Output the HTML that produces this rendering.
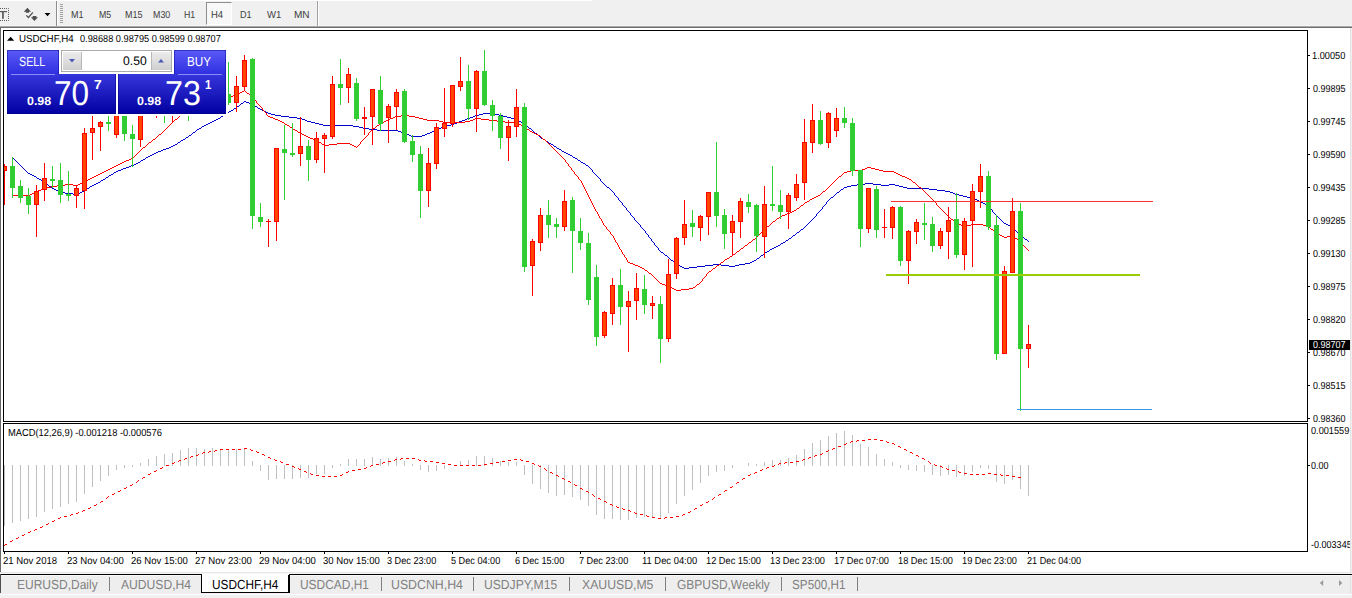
<!DOCTYPE html><html><head><meta charset="utf-8"><title>USDCHF,H4</title><style>
html,body{margin:0;padding:0}
body{width:1352px;height:598px;position:relative;overflow:hidden;background:#f0f0f0;font-family:"Liberation Sans", sans-serif;}
.abs{position:absolute}
.t{position:absolute;white-space:nowrap;color:#000;line-height:1;text-rendering:geometricPrecision;transform-origin:0 0}
.sep{position:absolute;top:577px;width:1px;height:14px;background:#808080}
</style></head><body>
<div class="abs" style="left:0;top:0;width:592px;height:1px;background:#fff"></div>
<div class="abs" style="left:0;top:25px;width:1352px;height:1px;background:#f5f5f5"></div>
<div class="abs" style="left:0;top:26px;width:1352px;height:1px;background:#a8a8a8"></div>
<div class="abs" style="left:0;top:27px;width:1352px;height:1px;background:#6e6e6e"></div>
<div class="abs" style="left:0;top:28px;width:1350px;height:545px;background:#fff"></div>
<div class="abs" style="left:0;top:28px;width:1px;height:544px;background:#696969"></div>
<div class="abs" style="left:1350px;top:28px;width:1px;height:545px;background:#e3e3e3"></div>
<svg width="1352" height="598" viewBox="0 0 1352 598" style="position:absolute;left:0;top:0" shape-rendering="crispEdges">
<defs><clipPath id="cm"><rect x="4" y="31" width="1303" height="390"/></clipPath><clipPath id="cd"><rect x="4" y="424" width="1303" height="127"/></clipPath></defs>
<rect x="3.5" y="30.5" width="1304" height="391" fill="#fff" stroke="#000" stroke-width="1"/>
<rect x="3.5" y="423.5" width="1304" height="128" fill="#fff" stroke="#000" stroke-width="1"/>
<g clip-path="url(#cm)">
<path d="M244 101h2v1h-2zM243 102h1v1h-1zM246 102h3v1h-3zM241 103h2v1h-2zM249 103h2v1h-2zM240 104h1v1h-1zM251 104h2v1h-2zM239 105h1v1h-1zM253 105h2v1h-2zM237 106h2v1h-2zM255 106h2v1h-2zM236 107h1v1h-1zM257 107h1v1h-1zM234 108h2v1h-2zM258 108h2v1h-2zM233 109h1v1h-1zM260 109h2v1h-2zM231 110h2v1h-2zM262 110h2v1h-2zM229 111h2v1h-2zM264 111h2v1h-2zM228 112h1v1h-1zM266 112h2v1h-2zM226 113h2v1h-2zM268 113h3v1h-3zM483 113h12v1h-12zM225 114h1v1h-1zM271 114h4v1h-4zM479 114h4v1h-4zM495 114h4v1h-4zM223 115h2v1h-2zM275 115h6v1h-6zM475 115h4v1h-4zM499 115h4v1h-4zM221 116h2v1h-2zM281 116h8v1h-8zM473 116h2v1h-2zM503 116h4v1h-4zM220 117h1v1h-1zM289 117h8v1h-8zM470 117h3v1h-3zM507 117h4v1h-4zM218 118h2v1h-2zM297 118h5v1h-5zM467 118h3v1h-3zM511 118h4v1h-4zM216 119h2v1h-2zM302 119h3v1h-3zM465 119h2v1h-2zM515 119h2v1h-2zM214 120h2v1h-2zM305 120h2v1h-2zM462 120h3v1h-3zM517 120h2v1h-2zM212 121h2v1h-2zM307 121h4v1h-4zM459 121h3v1h-3zM519 121h2v1h-2zM210 122h2v1h-2zM311 122h4v1h-4zM457 122h2v1h-2zM521 122h1v1h-1zM208 123h2v1h-2zM315 123h4v1h-4zM454 123h3v1h-3zM522 123h2v1h-2zM206 124h2v1h-2zM319 124h4v1h-4zM451 124h3v1h-3zM524 124h1v1h-1zM204 125h2v1h-2zM323 125h30v1h-30zM447 125h4v1h-4zM525 125h2v1h-2zM202 126h2v1h-2zM353 126h6v1h-6zM443 126h4v1h-4zM527 126h1v1h-1zM201 127h1v1h-1zM359 127h4v1h-4zM441 127h2v1h-2zM528 127h1v1h-1zM199 128h2v1h-2zM363 128h6v1h-6zM438 128h3v1h-3zM529 128h2v1h-2zM197 129h2v1h-2zM369 129h8v1h-8zM436 129h2v1h-2zM531 129h1v1h-1zM196 130h1v1h-1zM377 130h21v1h-21zM434 130h2v1h-2zM532 130h1v1h-1zM195 131h1v1h-1zM398 131h3v1h-3zM432 131h2v1h-2zM533 131h1v1h-1zM193 132h2v1h-2zM401 132h2v1h-2zM430 132h2v1h-2zM534 132h1v1h-1zM192 133h1v1h-1zM403 133h3v1h-3zM427 133h3v1h-3zM535 133h2v1h-2zM191 134h1v1h-1zM406 134h3v1h-3zM425 134h2v1h-2zM537 134h1v1h-1zM189 135h2v1h-2zM409 135h2v1h-2zM422 135h3v1h-3zM538 135h1v1h-1zM188 136h1v1h-1zM411 136h11v1h-11zM539 136h1v1h-1zM186 137h2v1h-2zM540 137h1v1h-1zM185 138h1v1h-1zM541 138h2v1h-2zM183 139h2v1h-2zM543 139h2v1h-2zM181 140h2v1h-2zM545 140h1v1h-1zM180 141h1v1h-1zM546 141h2v1h-2zM178 142h2v1h-2zM548 142h1v1h-1zM177 143h1v1h-1zM549 143h2v1h-2zM175 144h2v1h-2zM551 144h2v1h-2zM173 145h2v1h-2zM553 145h1v1h-1zM171 146h2v1h-2zM554 146h2v1h-2zM169 147h2v1h-2zM556 147h1v1h-1zM166 148h3v1h-3zM557 148h2v1h-2zM163 149h3v1h-3zM559 149h2v1h-2zM161 150h2v1h-2zM561 150h1v1h-1zM158 151h3v1h-3zM562 151h2v1h-2zM156 152h2v1h-2zM564 152h2v1h-2zM154 153h2v1h-2zM566 153h2v1h-2zM152 154h2v1h-2zM568 154h2v1h-2zM150 155h2v1h-2zM570 155h2v1h-2zM148 156h2v1h-2zM572 156h1v1h-1zM12 157h1v1h-1zM146 157h2v1h-2zM573 157h2v1h-2zM13 158h1v1h-1zM145 158h1v1h-1zM575 158h2v1h-2zM14 159h1v1h-1zM143 159h2v1h-2zM577 159h1v1h-1zM15 160h1v1h-1zM141 160h2v1h-2zM578 160h2v1h-2zM16 161h1v1h-1zM140 161h1v1h-1zM580 161h1v1h-1zM17 162h1v1h-1zM138 162h2v1h-2zM581 162h2v1h-2zM18 163h1v1h-1zM136 163h2v1h-2zM583 163h2v1h-2zM19 164h1v1h-1zM134 164h2v1h-2zM585 164h1v1h-1zM20 165h1v1h-1zM131 165h3v1h-3zM586 165h2v1h-2zM21 166h1v1h-1zM129 166h2v1h-2zM588 166h1v1h-1zM22 167h1v1h-1zM126 167h3v1h-3zM589 167h1v1h-1zM23 168h1v1h-1zM123 168h3v1h-3zM590 168h1v1h-1zM24 169h1v1h-1zM121 169h2v1h-2zM591 169h1v1h-1zM25 170h1v1h-1zM118 170h3v1h-3zM592 170h1v1h-1zM26 171h1v1h-1zM116 171h2v1h-2zM592 171h1v1h-1zM27 172h1v1h-1zM114 172h2v1h-2zM593 172h1v1h-1zM28 173h2v1h-2zM113 173h1v1h-1zM594 173h1v1h-1zM30 174h2v1h-2zM111 174h2v1h-2zM595 174h1v1h-1zM32 175h2v1h-2zM109 175h2v1h-2zM596 175h1v1h-1zM34 176h2v1h-2zM108 176h1v1h-1zM597 176h1v1h-1zM36 177h1v1h-1zM106 177h2v1h-2zM598 177h1v1h-1zM37 178h2v1h-2zM105 178h1v1h-1zM599 178h1v1h-1zM39 179h2v1h-2zM103 179h2v1h-2zM600 179h1v1h-1zM41 180h1v1h-1zM101 180h2v1h-2zM600 180h1v1h-1zM42 181h2v1h-2zM100 181h1v1h-1zM601 181h1v1h-1zM44 182h1v1h-1zM98 182h2v1h-2zM602 182h1v1h-1zM45 183h2v1h-2zM96 183h2v1h-2zM603 183h1v1h-1zM865 183h8v1h-8zM47 184h1v1h-1zM94 184h2v1h-2zM604 184h1v1h-1zM857 184h8v1h-8zM873 184h8v1h-8zM889 184h6v1h-6zM48 185h1v1h-1zM92 185h2v1h-2zM605 185h1v1h-1zM851 185h6v1h-6zM881 185h8v1h-8zM895 185h4v1h-4zM49 186h2v1h-2zM90 186h2v1h-2zM606 186h1v1h-1zM847 186h4v1h-4zM899 186h4v1h-4zM51 187h1v1h-1zM89 187h1v1h-1zM607 187h2v1h-2zM844 187h3v1h-3zM903 187h4v1h-4zM52 188h2v1h-2zM87 188h2v1h-2zM609 188h1v1h-1zM843 188h1v1h-1zM907 188h22v1h-22zM54 189h2v1h-2zM85 189h2v1h-2zM610 189h1v1h-1zM841 189h2v1h-2zM929 189h8v1h-8zM56 190h2v1h-2zM84 190h1v1h-1zM611 190h1v1h-1zM840 190h1v1h-1zM937 190h8v1h-8zM58 191h2v1h-2zM82 191h2v1h-2zM612 191h1v1h-1zM839 191h1v1h-1zM945 191h5v1h-5zM60 192h5v1h-5zM80 192h2v1h-2zM613 192h1v1h-1zM837 192h2v1h-2zM950 192h3v1h-3zM65 193h8v1h-8zM78 193h2v1h-2zM614 193h1v1h-1zM836 193h1v1h-1zM953 193h2v1h-2zM73 194h5v1h-5zM614 194h1v1h-1zM835 194h1v1h-1zM955 194h4v1h-4zM615 195h1v1h-1zM834 195h1v1h-1zM959 195h4v1h-4zM616 196h1v1h-1zM833 196h1v1h-1zM963 196h4v1h-4zM617 197h1v1h-1zM831 197h2v1h-2zM967 197h4v1h-4zM618 198h1v1h-1zM830 198h1v1h-1zM971 198h3v1h-3zM618 199h1v1h-1zM829 199h1v1h-1zM974 199h3v1h-3zM619 200h1v1h-1zM828 200h1v1h-1zM977 200h2v1h-2zM620 201h1v1h-1zM827 201h1v1h-1zM979 201h2v1h-2zM621 202h1v1h-1zM826 202h1v1h-1zM981 202h2v1h-2zM622 203h1v1h-1zM826 203h1v1h-1zM983 203h2v1h-2zM622 204h1v1h-1zM825 204h1v1h-1zM985 204h1v1h-1zM623 205h1v1h-1zM824 205h1v1h-1zM986 205h2v1h-2zM624 206h1v1h-1zM823 206h1v1h-1zM988 206h1v1h-1zM625 207h1v1h-1zM822 207h1v1h-1zM989 207h1v1h-1zM626 208h1v1h-1zM822 208h1v1h-1zM990 208h1v1h-1zM626 209h1v1h-1zM821 209h1v1h-1zM991 209h1v1h-1zM627 210h1v1h-1zM820 210h1v1h-1zM992 210h1v1h-1zM628 211h1v1h-1zM819 211h1v1h-1zM992 211h1v1h-1zM629 212h1v1h-1zM818 212h1v1h-1zM993 212h1v1h-1zM630 213h1v1h-1zM817 213h1v1h-1zM994 213h1v1h-1zM630 214h1v1h-1zM816 214h1v1h-1zM995 214h1v1h-1zM631 215h1v1h-1zM816 215h1v1h-1zM996 215h1v1h-1zM632 216h1v1h-1zM815 216h1v1h-1zM997 216h1v1h-1zM633 217h1v1h-1zM814 217h1v1h-1zM998 217h1v1h-1zM634 218h1v1h-1zM813 218h1v1h-1zM999 218h1v1h-1zM634 219h1v1h-1zM812 219h1v1h-1zM1000 219h1v1h-1zM635 220h1v1h-1zM811 220h1v1h-1zM1001 220h1v1h-1zM636 221h1v1h-1zM810 221h1v1h-1zM1002 221h1v1h-1zM637 222h1v1h-1zM809 222h1v1h-1zM1003 222h1v1h-1zM638 223h1v1h-1zM808 223h1v1h-1zM1004 223h2v1h-2zM639 224h1v1h-1zM807 224h1v1h-1zM1006 224h2v1h-2zM640 225h1v1h-1zM806 225h1v1h-1zM1008 225h2v1h-2zM640 226h1v1h-1zM805 226h1v1h-1zM1010 226h2v1h-2zM641 227h1v1h-1zM804 227h1v1h-1zM1012 227h1v1h-1zM642 228h1v1h-1zM803 228h1v1h-1zM1013 228h1v1h-1zM643 229h1v1h-1zM801 229h2v1h-2zM1014 229h1v1h-1zM644 230h1v1h-1zM800 230h1v1h-1zM1015 230h1v1h-1zM645 231h1v1h-1zM799 231h1v1h-1zM1016 231h1v1h-1zM645 232h1v1h-1zM797 232h2v1h-2zM1017 232h1v1h-1zM646 233h1v1h-1zM796 233h1v1h-1zM1018 233h1v1h-1zM647 234h1v1h-1zM795 234h1v1h-1zM1019 234h1v1h-1zM648 235h1v1h-1zM793 235h2v1h-2zM1020 235h1v1h-1zM648 236h1v1h-1zM792 236h1v1h-1zM1021 236h2v1h-2zM649 237h1v1h-1zM791 237h1v1h-1zM1023 237h1v1h-1zM650 238h1v1h-1zM789 238h2v1h-2zM1024 238h1v1h-1zM651 239h1v1h-1zM788 239h1v1h-1zM1025 239h2v1h-2zM651 240h1v1h-1zM786 240h2v1h-2zM1027 240h1v1h-1zM652 241h1v1h-1zM785 241h1v1h-1zM1028 241h1v1h-1zM653 242h1v1h-1zM783 242h2v1h-2zM654 243h1v1h-1zM781 243h2v1h-2zM654 244h1v1h-1zM780 244h1v1h-1zM655 245h1v1h-1zM778 245h2v1h-2zM656 246h1v1h-1zM776 246h2v1h-2zM657 247h1v1h-1zM774 247h2v1h-2zM658 248h1v1h-1zM772 248h2v1h-2zM658 249h1v1h-1zM770 249h2v1h-2zM659 250h1v1h-1zM769 250h1v1h-1zM660 251h1v1h-1zM767 251h2v1h-2zM661 252h2v1h-2zM765 252h2v1h-2zM663 253h1v1h-1zM764 253h1v1h-1zM664 254h1v1h-1zM763 254h1v1h-1zM665 255h2v1h-2zM761 255h2v1h-2zM667 256h1v1h-1zM760 256h1v1h-1zM668 257h1v1h-1zM759 257h1v1h-1zM669 258h1v1h-1zM757 258h2v1h-2zM670 259h1v1h-1zM756 259h1v1h-1zM671 260h2v1h-2zM754 260h2v1h-2zM673 261h1v1h-1zM752 261h2v1h-2zM674 262h1v1h-1zM750 262h2v1h-2zM675 263h1v1h-1zM745 263h5v1h-5zM676 264h2v1h-2zM713 264h8v1h-8zM739 264h6v1h-6zM678 265h2v1h-2zM705 265h8v1h-8zM721 265h8v1h-8zM735 265h4v1h-4zM680 266h2v1h-2zM697 266h8v1h-8zM729 266h6v1h-6zM682 267h2v1h-2zM689 267h8v1h-8zM684 268h5v1h-5z" fill="#0000cd"/>
<path d="M244 90h1v1h-1zM242 91h2v1h-2zM245 91h1v1h-1zM240 92h2v1h-2zM246 92h1v1h-1zM238 93h2v1h-2zM247 93h2v1h-2zM235 94h3v1h-3zM249 94h1v1h-1zM233 95h2v1h-2zM250 95h1v1h-1zM230 96h3v1h-3zM251 96h1v1h-1zM225 97h5v1h-5zM252 97h1v1h-1zM209 98h16v1h-16zM253 98h1v1h-1zM203 99h6v1h-6zM254 99h1v1h-1zM201 100h2v1h-2zM255 100h1v1h-1zM198 101h3v1h-3zM256 101h1v1h-1zM196 102h2v1h-2zM256 102h1v1h-1zM195 103h1v1h-1zM257 103h1v1h-1zM194 104h1v1h-1zM258 104h1v1h-1zM193 105h1v1h-1zM259 105h1v1h-1zM191 106h2v1h-2zM260 106h1v1h-1zM190 107h1v1h-1zM261 107h1v1h-1zM189 108h1v1h-1zM262 108h1v1h-1zM188 109h1v1h-1zM262 109h1v1h-1zM187 110h1v1h-1zM263 110h1v1h-1zM185 111h2v1h-2zM264 111h1v1h-1zM184 112h1v1h-1zM265 112h1v1h-1zM183 113h1v1h-1zM266 113h1v1h-1zM181 114h2v1h-2zM266 114h1v1h-1zM180 115h1v1h-1zM267 115h1v1h-1zM401 115h8v1h-8zM179 116h1v1h-1zM268 116h2v1h-2zM395 116h6v1h-6zM409 116h6v1h-6zM178 117h1v1h-1zM270 117h3v1h-3zM393 117h2v1h-2zM415 117h4v1h-4zM177 118h1v1h-1zM273 118h2v1h-2zM390 118h3v1h-3zM419 118h4v1h-4zM475 118h6v1h-6zM175 119h2v1h-2zM275 119h3v1h-3zM388 119h2v1h-2zM423 119h4v1h-4zM473 119h2v1h-2zM481 119h8v1h-8zM174 120h1v1h-1zM278 120h2v1h-2zM386 120h2v1h-2zM427 120h12v1h-12zM470 120h3v1h-3zM489 120h8v1h-8zM173 121h1v1h-1zM280 121h2v1h-2zM384 121h2v1h-2zM439 121h4v1h-4zM465 121h5v1h-5zM497 121h8v1h-8zM172 122h1v1h-1zM282 122h2v1h-2zM382 122h2v1h-2zM443 122h22v1h-22zM505 122h12v1h-12zM171 123h1v1h-1zM284 123h1v1h-1zM380 123h2v1h-2zM517 123h2v1h-2zM170 124h1v1h-1zM285 124h2v1h-2zM379 124h1v1h-1zM519 124h2v1h-2zM169 125h1v1h-1zM287 125h2v1h-2zM377 125h2v1h-2zM521 125h1v1h-1zM168 126h1v1h-1zM289 126h1v1h-1zM376 126h1v1h-1zM522 126h2v1h-2zM167 127h1v1h-1zM290 127h2v1h-2zM375 127h1v1h-1zM524 127h1v1h-1zM166 128h1v1h-1zM292 128h1v1h-1zM373 128h2v1h-2zM525 128h2v1h-2zM165 129h1v1h-1zM293 129h2v1h-2zM372 129h1v1h-1zM527 129h2v1h-2zM164 130h1v1h-1zM295 130h2v1h-2zM371 130h1v1h-1zM529 130h1v1h-1zM163 131h1v1h-1zM297 131h1v1h-1zM370 131h1v1h-1zM530 131h2v1h-2zM162 132h1v1h-1zM298 132h2v1h-2zM369 132h1v1h-1zM532 132h2v1h-2zM161 133h1v1h-1zM300 133h2v1h-2zM368 133h1v1h-1zM534 133h2v1h-2zM159 134h2v1h-2zM302 134h2v1h-2zM368 134h1v1h-1zM536 134h2v1h-2zM158 135h1v1h-1zM304 135h2v1h-2zM367 135h1v1h-1zM538 135h2v1h-2zM157 136h1v1h-1zM306 136h2v1h-2zM366 136h1v1h-1zM540 136h1v1h-1zM156 137h1v1h-1zM308 137h2v1h-2zM365 137h1v1h-1zM541 137h1v1h-1zM155 138h1v1h-1zM310 138h3v1h-3zM364 138h1v1h-1zM542 138h1v1h-1zM153 139h2v1h-2zM313 139h2v1h-2zM363 139h1v1h-1zM543 139h2v1h-2zM152 140h1v1h-1zM315 140h2v1h-2zM362 140h1v1h-1zM545 140h1v1h-1zM151 141h1v1h-1zM317 141h2v1h-2zM361 141h1v1h-1zM546 141h1v1h-1zM149 142h2v1h-2zM319 142h2v1h-2zM360 142h1v1h-1zM547 142h1v1h-1zM148 143h1v1h-1zM321 143h1v1h-1zM337 143h13v1h-13zM360 143h1v1h-1zM548 143h1v1h-1zM147 144h1v1h-1zM322 144h2v1h-2zM329 144h8v1h-8zM350 144h2v1h-2zM359 144h1v1h-1zM549 144h1v1h-1zM146 145h1v1h-1zM324 145h5v1h-5zM352 145h2v1h-2zM358 145h1v1h-1zM550 145h1v1h-1zM145 146h1v1h-1zM354 146h2v1h-2zM357 146h1v1h-1zM551 146h1v1h-1zM143 147h2v1h-2zM356 147h1v1h-1zM552 147h1v1h-1zM142 148h1v1h-1zM553 148h1v1h-1zM141 149h1v1h-1zM554 149h1v1h-1zM140 150h1v1h-1zM555 150h1v1h-1zM139 151h1v1h-1zM556 151h1v1h-1zM138 152h1v1h-1zM557 152h1v1h-1zM137 153h1v1h-1zM558 153h1v1h-1zM136 154h1v1h-1zM559 154h1v1h-1zM135 155h1v1h-1zM560 155h1v1h-1zM134 156h1v1h-1zM561 156h1v1h-1zM133 157h1v1h-1zM562 157h1v1h-1zM131 158h2v1h-2zM563 158h1v1h-1zM129 159h2v1h-2zM564 159h1v1h-1zM126 160h3v1h-3zM565 160h1v1h-1zM124 161h2v1h-2zM565 161h1v1h-1zM122 162h2v1h-2zM566 162h1v1h-1zM120 163h2v1h-2zM567 163h1v1h-1zM118 164h2v1h-2zM568 164h1v1h-1zM116 165h2v1h-2zM568 165h1v1h-1zM114 166h2v1h-2zM569 166h1v1h-1zM112 167h2v1h-2zM570 167h1v1h-1zM867 167h4v1h-4zM110 168h2v1h-2zM571 168h1v1h-1zM865 168h2v1h-2zM871 168h4v1h-4zM108 169h2v1h-2zM571 169h1v1h-1zM862 169h3v1h-3zM875 169h4v1h-4zM106 170h2v1h-2zM572 170h1v1h-1zM851 170h11v1h-11zM879 170h4v1h-4zM104 171h2v1h-2zM573 171h1v1h-1zM847 171h4v1h-4zM883 171h11v1h-11zM102 172h2v1h-2zM574 172h1v1h-1zM844 172h3v1h-3zM894 172h2v1h-2zM100 173h2v1h-2zM574 173h1v1h-1zM843 173h1v1h-1zM896 173h2v1h-2zM98 174h2v1h-2zM575 174h1v1h-1zM842 174h1v1h-1zM898 174h2v1h-2zM96 175h2v1h-2zM576 175h1v1h-1zM841 175h1v1h-1zM900 175h2v1h-2zM94 176h2v1h-2zM577 176h1v1h-1zM839 176h2v1h-2zM902 176h3v1h-3zM92 177h2v1h-2zM578 177h1v1h-1zM838 177h1v1h-1zM905 177h2v1h-2zM90 178h2v1h-2zM578 178h1v1h-1zM837 178h1v1h-1zM907 178h2v1h-2zM88 179h2v1h-2zM579 179h1v1h-1zM836 179h1v1h-1zM909 179h2v1h-2zM86 180h2v1h-2zM580 180h1v1h-1zM835 180h1v1h-1zM911 180h1v1h-1zM84 181h2v1h-2zM581 181h1v1h-1zM834 181h1v1h-1zM912 181h1v1h-1zM82 182h2v1h-2zM581 182h1v1h-1zM833 182h1v1h-1zM913 182h2v1h-2zM80 183h2v1h-2zM582 183h1v1h-1zM832 183h1v1h-1zM915 183h1v1h-1zM65 184h8v1h-8zM78 184h2v1h-2zM582 184h1v1h-1zM831 184h1v1h-1zM916 184h1v1h-1zM57 185h8v1h-8zM73 185h5v1h-5zM583 185h1v1h-1zM830 185h1v1h-1zM917 185h1v1h-1zM51 186h6v1h-6zM583 186h1v1h-1zM829 186h1v1h-1zM918 186h1v1h-1zM47 187h4v1h-4zM584 187h1v1h-1zM828 187h1v1h-1zM919 187h2v1h-2zM43 188h4v1h-4zM584 188h1v1h-1zM827 188h1v1h-1zM921 188h1v1h-1zM41 189h2v1h-2zM585 189h1v1h-1zM826 189h1v1h-1zM922 189h1v1h-1zM38 190h3v1h-3zM585 190h1v1h-1zM825 190h1v1h-1zM923 190h1v1h-1zM36 191h2v1h-2zM586 191h1v1h-1zM823 191h2v1h-2zM924 191h1v1h-1zM34 192h2v1h-2zM586 192h1v1h-1zM822 192h1v1h-1zM925 192h1v1h-1zM32 193h2v1h-2zM587 193h1v1h-1zM821 193h1v1h-1zM926 193h1v1h-1zM30 194h2v1h-2zM587 194h1v1h-1zM820 194h1v1h-1zM927 194h1v1h-1zM12 195h18v1h-18zM588 195h1v1h-1zM818 195h2v1h-2zM928 195h1v1h-1zM588 196h1v1h-1zM816 196h2v1h-2zM929 196h1v1h-1zM589 197h1v1h-1zM814 197h2v1h-2zM930 197h1v1h-1zM589 198h1v1h-1zM812 198h2v1h-2zM931 198h1v1h-1zM590 199h1v1h-1zM810 199h2v1h-2zM932 199h1v1h-1zM590 200h1v1h-1zM809 200h1v1h-1zM933 200h1v1h-1zM591 201h1v1h-1zM807 201h2v1h-2zM934 201h1v1h-1zM591 202h1v1h-1zM805 202h2v1h-2zM935 202h1v1h-1zM592 203h1v1h-1zM804 203h1v1h-1zM936 203h1v1h-1zM592 204h1v1h-1zM803 204h1v1h-1zM936 204h1v1h-1zM593 205h1v1h-1zM801 205h2v1h-2zM937 205h1v1h-1zM593 206h1v1h-1zM800 206h1v1h-1zM938 206h1v1h-1zM594 207h1v1h-1zM799 207h1v1h-1zM939 207h1v1h-1zM594 208h1v1h-1zM797 208h2v1h-2zM940 208h1v1h-1zM595 209h1v1h-1zM796 209h1v1h-1zM941 209h1v1h-1zM595 210h1v1h-1zM794 210h2v1h-2zM942 210h1v1h-1zM596 211h1v1h-1zM792 211h2v1h-2zM943 211h1v1h-1zM597 212h1v1h-1zM790 212h2v1h-2zM944 212h1v1h-1zM597 213h1v1h-1zM787 213h3v1h-3zM945 213h1v1h-1zM598 214h1v1h-1zM785 214h2v1h-2zM946 214h1v1h-1zM598 215h1v1h-1zM782 215h3v1h-3zM947 215h1v1h-1zM599 216h1v1h-1zM780 216h2v1h-2zM948 216h1v1h-1zM599 217h1v1h-1zM779 217h1v1h-1zM949 217h1v1h-1zM600 218h1v1h-1zM777 218h2v1h-2zM950 218h1v1h-1zM601 219h1v1h-1zM776 219h1v1h-1zM951 219h2v1h-2zM601 220h1v1h-1zM775 220h1v1h-1zM953 220h1v1h-1zM602 221h1v1h-1zM773 221h2v1h-2zM954 221h1v1h-1zM602 222h1v1h-1zM772 222h1v1h-1zM955 222h1v1h-1zM603 223h1v1h-1zM771 223h1v1h-1zM956 223h2v1h-2zM603 224h1v1h-1zM770 224h1v1h-1zM958 224h3v1h-3zM971 224h12v1h-12zM604 225h1v1h-1zM769 225h1v1h-1zM961 225h2v1h-2zM967 225h4v1h-4zM983 225h4v1h-4zM605 226h1v1h-1zM767 226h2v1h-2zM963 226h4v1h-4zM987 226h2v1h-2zM606 227h1v1h-1zM766 227h1v1h-1zM989 227h1v1h-1zM606 228h1v1h-1zM765 228h1v1h-1zM990 228h1v1h-1zM607 229h1v1h-1zM764 229h1v1h-1zM991 229h2v1h-2zM608 230h1v1h-1zM763 230h1v1h-1zM993 230h1v1h-1zM609 231h1v1h-1zM762 231h1v1h-1zM994 231h1v1h-1zM610 232h1v1h-1zM761 232h1v1h-1zM995 232h1v1h-1zM610 233h1v1h-1zM760 233h1v1h-1zM996 233h2v1h-2zM611 234h1v1h-1zM759 234h1v1h-1zM998 234h2v1h-2zM612 235h1v1h-1zM758 235h1v1h-1zM1000 235h2v1h-2zM1011 235h2v1h-2zM613 236h1v1h-1zM757 236h1v1h-1zM1002 236h2v1h-2zM1007 236h4v1h-4zM1013 236h1v1h-1zM613 237h1v1h-1zM756 237h1v1h-1zM1004 237h3v1h-3zM1014 237h1v1h-1zM614 238h1v1h-1zM755 238h1v1h-1zM1015 238h2v1h-2zM614 239h1v1h-1zM753 239h2v1h-2zM1017 239h1v1h-1zM615 240h1v1h-1zM752 240h1v1h-1zM1018 240h1v1h-1zM615 241h1v1h-1zM751 241h1v1h-1zM1019 241h1v1h-1zM616 242h1v1h-1zM749 242h2v1h-2zM1020 242h1v1h-1zM617 243h1v1h-1zM748 243h1v1h-1zM1021 243h1v1h-1zM617 244h1v1h-1zM747 244h1v1h-1zM1022 244h1v1h-1zM618 245h1v1h-1zM745 245h2v1h-2zM1023 245h1v1h-1zM618 246h1v1h-1zM744 246h1v1h-1zM1024 246h1v1h-1zM619 247h1v1h-1zM743 247h1v1h-1zM1025 247h1v1h-1zM619 248h1v1h-1zM741 248h2v1h-2zM1026 248h1v1h-1zM620 249h1v1h-1zM740 249h1v1h-1zM1027 249h1v1h-1zM621 250h1v1h-1zM739 250h1v1h-1zM1028 250h1v1h-1zM621 251h1v1h-1zM737 251h2v1h-2zM622 252h1v1h-1zM736 252h1v1h-1zM622 253h1v1h-1zM735 253h1v1h-1zM623 254h1v1h-1zM733 254h2v1h-2zM624 255h1v1h-1zM732 255h1v1h-1zM624 256h1v1h-1zM730 256h2v1h-2zM625 257h1v1h-1zM729 257h1v1h-1zM626 258h1v1h-1zM727 258h2v1h-2zM626 259h1v1h-1zM725 259h2v1h-2zM627 260h1v1h-1zM724 260h1v1h-1zM627 261h1v1h-1zM723 261h1v1h-1zM628 262h2v1h-2zM721 262h2v1h-2zM630 263h3v1h-3zM720 263h1v1h-1zM633 264h2v1h-2zM719 264h1v1h-1zM635 265h3v1h-3zM717 265h2v1h-2zM638 266h2v1h-2zM716 266h1v1h-1zM640 267h2v1h-2zM715 267h1v1h-1zM642 268h2v1h-2zM713 268h2v1h-2zM644 269h1v1h-1zM712 269h1v1h-1zM645 270h2v1h-2zM711 270h1v1h-1zM647 271h1v1h-1zM709 271h2v1h-2zM648 272h1v1h-1zM708 272h1v1h-1zM649 273h2v1h-2zM707 273h1v1h-1zM651 274h1v1h-1zM706 274h1v1h-1zM652 275h1v1h-1zM706 275h1v1h-1zM653 276h1v1h-1zM705 276h1v1h-1zM654 277h1v1h-1zM704 277h1v1h-1zM655 278h1v1h-1zM703 278h1v1h-1zM656 279h1v1h-1zM702 279h1v1h-1zM657 280h1v1h-1zM702 280h1v1h-1zM658 281h1v1h-1zM701 281h1v1h-1zM659 282h1v1h-1zM700 282h1v1h-1zM660 283h2v1h-2zM699 283h1v1h-1zM662 284h3v1h-3zM697 284h2v1h-2zM665 285h2v1h-2zM696 285h1v1h-1zM667 286h3v1h-3zM695 286h1v1h-1zM670 287h2v1h-2zM693 287h2v1h-2zM672 288h2v1h-2zM689 288h4v1h-4zM674 289h2v1h-2zM681 289h8v1h-8zM676 290h5v1h-5z" fill="#ff0000"/>
<rect x="4" y="164" width="1" height="41" fill="#ff0000"/>
<rect x="2" y="166" width="5" height="5" fill="#ff0000"/>
<rect x="3" y="167" width="3" height="3" fill="#ff4500"/>
<rect x="12" y="157" width="1" height="41" fill="#32cd32"/>
<rect x="10" y="166" width="5" height="22" fill="#32cd32"/>
<rect x="20" y="180" width="1" height="23" fill="#32cd32"/>
<rect x="18" y="186" width="5" height="12" fill="#32cd32"/>
<rect x="28" y="188" width="1" height="26" fill="#32cd32"/>
<rect x="26" y="196" width="5" height="9" fill="#32cd32"/>
<rect x="36" y="185" width="1" height="52" fill="#ff0000"/>
<rect x="34" y="191" width="5" height="14" fill="#ff0000"/>
<rect x="35" y="192" width="3" height="12" fill="#ff4500"/>
<rect x="44" y="163" width="1" height="38" fill="#ff0000"/>
<rect x="42" y="178" width="5" height="12" fill="#ff0000"/>
<rect x="43" y="179" width="3" height="10" fill="#ff4500"/>
<rect x="52" y="166" width="1" height="22" fill="#32cd32"/>
<rect x="50" y="179" width="5" height="2" fill="#32cd32"/>
<rect x="60" y="163" width="1" height="40" fill="#32cd32"/>
<rect x="58" y="180" width="5" height="15" fill="#32cd32"/>
<rect x="68" y="171" width="1" height="30" fill="#32cd32"/>
<rect x="66" y="194" width="5" height="2" fill="#32cd32"/>
<rect x="76" y="185" width="1" height="23" fill="#ff0000"/>
<rect x="74" y="188" width="5" height="8" fill="#ff0000"/>
<rect x="75" y="189" width="3" height="6" fill="#ff4500"/>
<rect x="84" y="128" width="1" height="81" fill="#ff0000"/>
<rect x="82" y="133" width="5" height="58" fill="#ff0000"/>
<rect x="83" y="134" width="3" height="56" fill="#ff4500"/>
<rect x="92" y="105" width="1" height="55" fill="#ff0000"/>
<rect x="90" y="128" width="5" height="5" fill="#ff0000"/>
<rect x="91" y="129" width="3" height="3" fill="#ff4500"/>
<rect x="100" y="121" width="1" height="30" fill="#ff0000"/>
<rect x="98" y="122" width="5" height="5" fill="#ff0000"/>
<rect x="99" y="123" width="3" height="3" fill="#ff4500"/>
<rect x="108" y="105" width="1" height="26" fill="#32cd32"/>
<rect x="106" y="122" width="5" height="2" fill="#32cd32"/>
<rect x="116" y="100" width="1" height="38" fill="#ff0000"/>
<rect x="114" y="100" width="5" height="35" fill="#ff0000"/>
<rect x="115" y="101" width="3" height="33" fill="#ff4500"/>
<rect x="124" y="100" width="1" height="41" fill="#32cd32"/>
<rect x="122" y="100" width="5" height="34" fill="#32cd32"/>
<rect x="132" y="125" width="1" height="42" fill="#32cd32"/>
<rect x="130" y="134" width="5" height="5" fill="#32cd32"/>
<rect x="140" y="100" width="1" height="47" fill="#ff0000"/>
<rect x="138" y="100" width="5" height="40" fill="#ff0000"/>
<rect x="139" y="101" width="3" height="38" fill="#ff4500"/>
<rect x="156" y="100" width="1" height="18" fill="#ff0000"/>
<rect x="164" y="100" width="1" height="23" fill="#32cd32"/>
<rect x="172" y="100" width="1" height="23" fill="#ff0000"/>
<rect x="188" y="100" width="1" height="21" fill="#32cd32"/>
<rect x="228" y="62" width="1" height="43" fill="#32cd32"/>
<rect x="226" y="94" width="5" height="9" fill="#32cd32"/>
<rect x="236" y="76" width="1" height="36" fill="#ff0000"/>
<rect x="234" y="86" width="5" height="17" fill="#ff0000"/>
<rect x="235" y="87" width="3" height="15" fill="#ff4500"/>
<rect x="244" y="55" width="1" height="35" fill="#ff0000"/>
<rect x="242" y="60" width="5" height="27" fill="#ff0000"/>
<rect x="243" y="61" width="3" height="25" fill="#ff4500"/>
<rect x="252" y="58" width="1" height="171" fill="#32cd32"/>
<rect x="250" y="59" width="5" height="157" fill="#32cd32"/>
<rect x="260" y="203" width="1" height="24" fill="#32cd32"/>
<rect x="258" y="217" width="5" height="5" fill="#32cd32"/>
<rect x="268" y="219" width="1" height="28" fill="#ff0000"/>
<rect x="266" y="221" width="5" height="1" fill="#ff0000"/>
<rect x="276" y="148" width="1" height="93" fill="#ff0000"/>
<rect x="274" y="148" width="5" height="74" fill="#ff0000"/>
<rect x="275" y="149" width="3" height="72" fill="#ff4500"/>
<rect x="284" y="125" width="1" height="75" fill="#32cd32"/>
<rect x="282" y="149" width="5" height="4" fill="#32cd32"/>
<rect x="292" y="123" width="1" height="34" fill="#32cd32"/>
<rect x="290" y="153" width="5" height="2" fill="#32cd32"/>
<rect x="300" y="117" width="1" height="49" fill="#ff0000"/>
<rect x="298" y="146" width="5" height="8" fill="#ff0000"/>
<rect x="299" y="147" width="3" height="6" fill="#ff4500"/>
<rect x="308" y="140" width="1" height="41" fill="#32cd32"/>
<rect x="306" y="146" width="5" height="14" fill="#32cd32"/>
<rect x="316" y="132" width="1" height="31" fill="#ff0000"/>
<rect x="314" y="138" width="5" height="22" fill="#ff0000"/>
<rect x="315" y="139" width="3" height="20" fill="#ff4500"/>
<rect x="324" y="133" width="1" height="40" fill="#ff0000"/>
<rect x="322" y="135" width="5" height="4" fill="#ff0000"/>
<rect x="323" y="136" width="3" height="2" fill="#ff4500"/>
<rect x="332" y="76" width="1" height="63" fill="#ff0000"/>
<rect x="330" y="84" width="5" height="53" fill="#ff0000"/>
<rect x="331" y="85" width="3" height="51" fill="#ff4500"/>
<rect x="340" y="59" width="1" height="46" fill="#32cd32"/>
<rect x="338" y="84" width="5" height="4" fill="#32cd32"/>
<rect x="348" y="68" width="1" height="35" fill="#ff0000"/>
<rect x="346" y="74" width="5" height="14" fill="#ff0000"/>
<rect x="347" y="75" width="3" height="12" fill="#ff4500"/>
<rect x="356" y="78" width="1" height="43" fill="#32cd32"/>
<rect x="354" y="83" width="5" height="36" fill="#32cd32"/>
<rect x="364" y="107" width="1" height="28" fill="#ff0000"/>
<rect x="362" y="117" width="5" height="2" fill="#ff0000"/>
<rect x="372" y="89" width="1" height="56" fill="#ff0000"/>
<rect x="370" y="89" width="5" height="28" fill="#ff0000"/>
<rect x="371" y="90" width="3" height="26" fill="#ff4500"/>
<rect x="380" y="76" width="1" height="55" fill="#32cd32"/>
<rect x="378" y="90" width="5" height="34" fill="#32cd32"/>
<rect x="388" y="104" width="1" height="39" fill="#ff0000"/>
<rect x="386" y="106" width="5" height="12" fill="#ff0000"/>
<rect x="387" y="107" width="3" height="10" fill="#ff4500"/>
<rect x="396" y="89" width="1" height="41" fill="#ff0000"/>
<rect x="394" y="92" width="5" height="15" fill="#ff0000"/>
<rect x="395" y="93" width="3" height="13" fill="#ff4500"/>
<rect x="404" y="89" width="1" height="54" fill="#32cd32"/>
<rect x="402" y="91" width="5" height="51" fill="#32cd32"/>
<rect x="412" y="135" width="1" height="27" fill="#32cd32"/>
<rect x="410" y="141" width="5" height="14" fill="#32cd32"/>
<rect x="420" y="146" width="1" height="72" fill="#32cd32"/>
<rect x="418" y="154" width="5" height="37" fill="#32cd32"/>
<rect x="428" y="148" width="1" height="59" fill="#ff0000"/>
<rect x="426" y="163" width="5" height="28" fill="#ff0000"/>
<rect x="427" y="164" width="3" height="26" fill="#ff4500"/>
<rect x="436" y="123" width="1" height="46" fill="#ff0000"/>
<rect x="434" y="127" width="5" height="37" fill="#ff0000"/>
<rect x="435" y="128" width="3" height="35" fill="#ff4500"/>
<rect x="444" y="88" width="1" height="49" fill="#ff0000"/>
<rect x="442" y="123" width="5" height="6" fill="#ff0000"/>
<rect x="443" y="124" width="3" height="4" fill="#ff4500"/>
<rect x="452" y="85" width="1" height="42" fill="#ff0000"/>
<rect x="450" y="85" width="5" height="39" fill="#ff0000"/>
<rect x="451" y="86" width="3" height="37" fill="#ff4500"/>
<rect x="460" y="57" width="1" height="34" fill="#ff0000"/>
<rect x="458" y="81" width="5" height="6" fill="#ff0000"/>
<rect x="459" y="82" width="3" height="4" fill="#ff4500"/>
<rect x="468" y="65" width="1" height="55" fill="#32cd32"/>
<rect x="466" y="81" width="5" height="28" fill="#32cd32"/>
<rect x="476" y="70" width="1" height="62" fill="#ff0000"/>
<rect x="474" y="71" width="5" height="38" fill="#ff0000"/>
<rect x="475" y="72" width="3" height="36" fill="#ff4500"/>
<rect x="484" y="50" width="1" height="56" fill="#32cd32"/>
<rect x="482" y="71" width="5" height="34" fill="#32cd32"/>
<rect x="492" y="100" width="1" height="31" fill="#32cd32"/>
<rect x="490" y="105" width="5" height="11" fill="#32cd32"/>
<rect x="500" y="113" width="1" height="36" fill="#32cd32"/>
<rect x="498" y="116" width="5" height="22" fill="#32cd32"/>
<rect x="508" y="120" width="1" height="41" fill="#ff0000"/>
<rect x="506" y="126" width="5" height="12" fill="#ff0000"/>
<rect x="507" y="127" width="3" height="10" fill="#ff4500"/>
<rect x="516" y="89" width="1" height="48" fill="#ff0000"/>
<rect x="514" y="107" width="5" height="20" fill="#ff0000"/>
<rect x="515" y="108" width="3" height="18" fill="#ff4500"/>
<rect x="524" y="103" width="1" height="169" fill="#32cd32"/>
<rect x="522" y="107" width="5" height="160" fill="#32cd32"/>
<rect x="532" y="239" width="1" height="57" fill="#ff0000"/>
<rect x="530" y="241" width="5" height="25" fill="#ff0000"/>
<rect x="531" y="242" width="3" height="23" fill="#ff4500"/>
<rect x="540" y="208" width="1" height="43" fill="#ff0000"/>
<rect x="538" y="215" width="5" height="28" fill="#ff0000"/>
<rect x="539" y="216" width="3" height="26" fill="#ff4500"/>
<rect x="548" y="200" width="1" height="38" fill="#32cd32"/>
<rect x="546" y="215" width="5" height="10" fill="#32cd32"/>
<rect x="556" y="218" width="1" height="20" fill="#32cd32"/>
<rect x="554" y="224" width="5" height="3" fill="#32cd32"/>
<rect x="564" y="190" width="1" height="41" fill="#ff0000"/>
<rect x="562" y="201" width="5" height="26" fill="#ff0000"/>
<rect x="563" y="202" width="3" height="24" fill="#ff4500"/>
<rect x="572" y="197" width="1" height="76" fill="#32cd32"/>
<rect x="570" y="200" width="5" height="31" fill="#32cd32"/>
<rect x="580" y="218" width="1" height="32" fill="#32cd32"/>
<rect x="578" y="231" width="5" height="12" fill="#32cd32"/>
<rect x="588" y="233" width="1" height="72" fill="#32cd32"/>
<rect x="586" y="243" width="5" height="57" fill="#32cd32"/>
<rect x="596" y="265" width="1" height="81" fill="#32cd32"/>
<rect x="594" y="277" width="5" height="60" fill="#32cd32"/>
<rect x="604" y="311" width="1" height="27" fill="#ff0000"/>
<rect x="602" y="312" width="5" height="24" fill="#ff0000"/>
<rect x="603" y="313" width="3" height="22" fill="#ff4500"/>
<rect x="612" y="278" width="1" height="47" fill="#ff0000"/>
<rect x="610" y="285" width="5" height="29" fill="#ff0000"/>
<rect x="611" y="286" width="3" height="27" fill="#ff4500"/>
<rect x="620" y="269" width="1" height="56" fill="#32cd32"/>
<rect x="618" y="285" width="5" height="22" fill="#32cd32"/>
<rect x="628" y="291" width="1" height="61" fill="#ff0000"/>
<rect x="626" y="301" width="5" height="6" fill="#ff0000"/>
<rect x="627" y="302" width="3" height="4" fill="#ff4500"/>
<rect x="636" y="273" width="1" height="47" fill="#ff0000"/>
<rect x="634" y="288" width="5" height="13" fill="#ff0000"/>
<rect x="635" y="289" width="3" height="11" fill="#ff4500"/>
<rect x="644" y="275" width="1" height="39" fill="#32cd32"/>
<rect x="642" y="289" width="5" height="16" fill="#32cd32"/>
<rect x="652" y="296" width="1" height="23" fill="#ff0000"/>
<rect x="650" y="303" width="5" height="3" fill="#ff0000"/>
<rect x="651" y="304" width="3" height="1" fill="#ff4500"/>
<rect x="660" y="296" width="1" height="67" fill="#32cd32"/>
<rect x="658" y="304" width="5" height="35" fill="#32cd32"/>
<rect x="668" y="259" width="1" height="83" fill="#ff0000"/>
<rect x="666" y="274" width="5" height="65" fill="#ff0000"/>
<rect x="667" y="275" width="3" height="63" fill="#ff4500"/>
<rect x="676" y="237" width="1" height="42" fill="#ff0000"/>
<rect x="674" y="238" width="5" height="36" fill="#ff0000"/>
<rect x="675" y="239" width="3" height="34" fill="#ff4500"/>
<rect x="684" y="200" width="1" height="45" fill="#ff0000"/>
<rect x="682" y="224" width="5" height="14" fill="#ff0000"/>
<rect x="683" y="225" width="3" height="12" fill="#ff4500"/>
<rect x="692" y="210" width="1" height="27" fill="#32cd32"/>
<rect x="690" y="223" width="5" height="4" fill="#32cd32"/>
<rect x="700" y="215" width="1" height="26" fill="#ff0000"/>
<rect x="698" y="216" width="5" height="12" fill="#ff0000"/>
<rect x="699" y="217" width="3" height="10" fill="#ff4500"/>
<rect x="708" y="192" width="1" height="43" fill="#ff0000"/>
<rect x="706" y="192" width="5" height="25" fill="#ff0000"/>
<rect x="707" y="193" width="3" height="23" fill="#ff4500"/>
<rect x="716" y="142" width="1" height="85" fill="#32cd32"/>
<rect x="714" y="192" width="5" height="24" fill="#32cd32"/>
<rect x="724" y="209" width="1" height="40" fill="#32cd32"/>
<rect x="722" y="215" width="5" height="19" fill="#32cd32"/>
<rect x="732" y="215" width="1" height="40" fill="#ff0000"/>
<rect x="730" y="221" width="5" height="12" fill="#ff0000"/>
<rect x="731" y="222" width="3" height="10" fill="#ff4500"/>
<rect x="740" y="198" width="1" height="40" fill="#ff0000"/>
<rect x="738" y="201" width="5" height="21" fill="#ff0000"/>
<rect x="739" y="202" width="3" height="19" fill="#ff4500"/>
<rect x="748" y="194" width="1" height="19" fill="#32cd32"/>
<rect x="746" y="202" width="5" height="5" fill="#32cd32"/>
<rect x="756" y="204" width="1" height="48" fill="#32cd32"/>
<rect x="754" y="205" width="5" height="31" fill="#32cd32"/>
<rect x="764" y="186" width="1" height="72" fill="#ff0000"/>
<rect x="762" y="204" width="5" height="33" fill="#ff0000"/>
<rect x="763" y="205" width="3" height="31" fill="#ff4500"/>
<rect x="772" y="166" width="1" height="45" fill="#32cd32"/>
<rect x="770" y="204" width="5" height="2" fill="#32cd32"/>
<rect x="780" y="190" width="1" height="29" fill="#32cd32"/>
<rect x="778" y="205" width="5" height="7" fill="#32cd32"/>
<rect x="788" y="193" width="1" height="36" fill="#ff0000"/>
<rect x="786" y="195" width="5" height="17" fill="#ff0000"/>
<rect x="787" y="196" width="3" height="15" fill="#ff4500"/>
<rect x="796" y="174" width="1" height="27" fill="#ff0000"/>
<rect x="794" y="184" width="5" height="14" fill="#ff0000"/>
<rect x="795" y="185" width="3" height="12" fill="#ff4500"/>
<rect x="804" y="119" width="1" height="81" fill="#ff0000"/>
<rect x="802" y="142" width="5" height="41" fill="#ff0000"/>
<rect x="803" y="143" width="3" height="39" fill="#ff4500"/>
<rect x="812" y="104" width="1" height="49" fill="#ff0000"/>
<rect x="810" y="120" width="5" height="23" fill="#ff0000"/>
<rect x="811" y="121" width="3" height="21" fill="#ff4500"/>
<rect x="820" y="111" width="1" height="34" fill="#32cd32"/>
<rect x="818" y="120" width="5" height="24" fill="#32cd32"/>
<rect x="828" y="112" width="1" height="36" fill="#ff0000"/>
<rect x="826" y="113" width="5" height="30" fill="#ff0000"/>
<rect x="827" y="114" width="3" height="28" fill="#ff4500"/>
<rect x="836" y="108" width="1" height="29" fill="#ff0000"/>
<rect x="834" y="118" width="5" height="13" fill="#ff0000"/>
<rect x="835" y="119" width="3" height="11" fill="#ff4500"/>
<rect x="844" y="107" width="1" height="21" fill="#32cd32"/>
<rect x="842" y="118" width="5" height="5" fill="#32cd32"/>
<rect x="852" y="118" width="1" height="58" fill="#32cd32"/>
<rect x="850" y="123" width="5" height="48" fill="#32cd32"/>
<rect x="860" y="170" width="1" height="77" fill="#32cd32"/>
<rect x="858" y="170" width="5" height="59" fill="#32cd32"/>
<rect x="868" y="188" width="1" height="45" fill="#ff0000"/>
<rect x="866" y="188" width="5" height="41" fill="#ff0000"/>
<rect x="867" y="189" width="3" height="39" fill="#ff4500"/>
<rect x="876" y="186" width="1" height="52" fill="#32cd32"/>
<rect x="874" y="189" width="5" height="41" fill="#32cd32"/>
<rect x="884" y="209" width="1" height="29" fill="#ff0000"/>
<rect x="882" y="227" width="5" height="1" fill="#ff0000"/>
<rect x="892" y="206" width="1" height="33" fill="#ff0000"/>
<rect x="890" y="207" width="5" height="21" fill="#ff0000"/>
<rect x="891" y="208" width="3" height="19" fill="#ff4500"/>
<rect x="900" y="206" width="1" height="60" fill="#32cd32"/>
<rect x="898" y="207" width="5" height="54" fill="#32cd32"/>
<rect x="908" y="230" width="1" height="54" fill="#ff0000"/>
<rect x="906" y="231" width="5" height="30" fill="#ff0000"/>
<rect x="907" y="232" width="3" height="28" fill="#ff4500"/>
<rect x="916" y="219" width="1" height="25" fill="#ff0000"/>
<rect x="914" y="222" width="5" height="10" fill="#ff0000"/>
<rect x="915" y="223" width="3" height="8" fill="#ff4500"/>
<rect x="924" y="203" width="1" height="37" fill="#32cd32"/>
<rect x="922" y="223" width="5" height="2" fill="#32cd32"/>
<rect x="932" y="217" width="1" height="35" fill="#32cd32"/>
<rect x="930" y="224" width="5" height="22" fill="#32cd32"/>
<rect x="940" y="228" width="1" height="21" fill="#ff0000"/>
<rect x="938" y="231" width="5" height="15" fill="#ff0000"/>
<rect x="939" y="232" width="3" height="13" fill="#ff4500"/>
<rect x="948" y="207" width="1" height="52" fill="#ff0000"/>
<rect x="946" y="220" width="5" height="12" fill="#ff0000"/>
<rect x="947" y="221" width="3" height="10" fill="#ff4500"/>
<rect x="956" y="193" width="1" height="65" fill="#32cd32"/>
<rect x="954" y="219" width="5" height="36" fill="#32cd32"/>
<rect x="964" y="218" width="1" height="52" fill="#ff0000"/>
<rect x="962" y="221" width="5" height="34" fill="#ff0000"/>
<rect x="963" y="222" width="3" height="32" fill="#ff4500"/>
<rect x="972" y="184" width="1" height="83" fill="#ff0000"/>
<rect x="970" y="191" width="5" height="30" fill="#ff0000"/>
<rect x="971" y="192" width="3" height="28" fill="#ff4500"/>
<rect x="980" y="164" width="1" height="44" fill="#ff0000"/>
<rect x="978" y="176" width="5" height="16" fill="#ff0000"/>
<rect x="979" y="177" width="3" height="14" fill="#ff4500"/>
<rect x="988" y="171" width="1" height="59" fill="#32cd32"/>
<rect x="986" y="176" width="5" height="51" fill="#32cd32"/>
<rect x="996" y="215" width="1" height="145" fill="#32cd32"/>
<rect x="994" y="225" width="5" height="129" fill="#32cd32"/>
<rect x="1004" y="266" width="1" height="88" fill="#ff0000"/>
<rect x="1002" y="271" width="5" height="83" fill="#ff0000"/>
<rect x="1003" y="272" width="3" height="81" fill="#ff4500"/>
<rect x="1012" y="198" width="1" height="75" fill="#ff0000"/>
<rect x="1010" y="211" width="5" height="62" fill="#ff0000"/>
<rect x="1011" y="212" width="3" height="60" fill="#ff4500"/>
<rect x="1020" y="203" width="1" height="208" fill="#32cd32"/>
<rect x="1018" y="211" width="5" height="138" fill="#32cd32"/>
<rect x="1028" y="325" width="1" height="43" fill="#ff0000"/>
<rect x="1026" y="344" width="5" height="5" fill="#ff0000"/>
<rect x="1027" y="345" width="3" height="3" fill="#ff4500"/>
<rect x="891" y="201" width="262" height="1" fill="#ff3030"/>
<rect x="886" y="274" width="254" height="2" fill="#9acd00"/>
<rect x="1017" y="409" width="135" height="1" fill="#3c96e6"/>
</g>
<g clip-path="url(#cd)">
<rect x="4" y="465" width="1" height="61" fill="#c0c0c0"/>
<rect x="12" y="465" width="1" height="58" fill="#c0c0c0"/>
<rect x="20" y="465" width="1" height="56" fill="#c0c0c0"/>
<rect x="28" y="465" width="1" height="54" fill="#c0c0c0"/>
<rect x="36" y="465" width="1" height="52" fill="#c0c0c0"/>
<rect x="44" y="465" width="1" height="47" fill="#c0c0c0"/>
<rect x="52" y="465" width="1" height="44" fill="#c0c0c0"/>
<rect x="60" y="465" width="1" height="42" fill="#c0c0c0"/>
<rect x="68" y="465" width="1" height="39" fill="#c0c0c0"/>
<rect x="76" y="465" width="1" height="37" fill="#c0c0c0"/>
<rect x="84" y="465" width="1" height="29" fill="#c0c0c0"/>
<rect x="92" y="465" width="1" height="22" fill="#c0c0c0"/>
<rect x="100" y="465" width="1" height="16" fill="#c0c0c0"/>
<rect x="108" y="465" width="1" height="11" fill="#c0c0c0"/>
<rect x="116" y="465" width="1" height="5" fill="#c0c0c0"/>
<rect x="124" y="465" width="1" height="3" fill="#c0c0c0"/>
<rect x="132" y="465" width="1" height="2" fill="#c0c0c0"/>
<rect x="140" y="463" width="1" height="3" fill="#c0c0c0"/>
<rect x="148" y="459" width="1" height="7" fill="#c0c0c0"/>
<rect x="156" y="456" width="1" height="10" fill="#c0c0c0"/>
<rect x="164" y="454" width="1" height="12" fill="#c0c0c0"/>
<rect x="172" y="453" width="1" height="13" fill="#c0c0c0"/>
<rect x="180" y="450" width="1" height="16" fill="#c0c0c0"/>
<rect x="188" y="448" width="1" height="18" fill="#c0c0c0"/>
<rect x="196" y="448" width="1" height="18" fill="#c0c0c0"/>
<rect x="204" y="449" width="1" height="17" fill="#c0c0c0"/>
<rect x="212" y="448" width="1" height="18" fill="#c0c0c0"/>
<rect x="220" y="449" width="1" height="17" fill="#c0c0c0"/>
<rect x="228" y="449" width="1" height="17" fill="#c0c0c0"/>
<rect x="236" y="449" width="1" height="17" fill="#c0c0c0"/>
<rect x="244" y="448" width="1" height="18" fill="#c0c0c0"/>
<rect x="252" y="461" width="1" height="5" fill="#c0c0c0"/>
<rect x="260" y="465" width="1" height="6" fill="#c0c0c0"/>
<rect x="268" y="465" width="1" height="15" fill="#c0c0c0"/>
<rect x="276" y="465" width="1" height="14" fill="#c0c0c0"/>
<rect x="284" y="465" width="1" height="14" fill="#c0c0c0"/>
<rect x="292" y="465" width="1" height="14" fill="#c0c0c0"/>
<rect x="300" y="465" width="1" height="13" fill="#c0c0c0"/>
<rect x="308" y="465" width="1" height="13" fill="#c0c0c0"/>
<rect x="316" y="465" width="1" height="9" fill="#c0c0c0"/>
<rect x="324" y="465" width="1" height="9" fill="#c0c0c0"/>
<rect x="332" y="465" width="1" height="3" fill="#c0c0c0"/>
<rect x="340" y="464" width="1" height="2" fill="#c0c0c0"/>
<rect x="348" y="459" width="1" height="7" fill="#c0c0c0"/>
<rect x="356" y="459" width="1" height="7" fill="#c0c0c0"/>
<rect x="364" y="459" width="1" height="7" fill="#c0c0c0"/>
<rect x="372" y="457" width="1" height="9" fill="#c0c0c0"/>
<rect x="380" y="459" width="1" height="7" fill="#c0c0c0"/>
<rect x="388" y="458" width="1" height="8" fill="#c0c0c0"/>
<rect x="396" y="457" width="1" height="9" fill="#c0c0c0"/>
<rect x="404" y="461" width="1" height="5" fill="#c0c0c0"/>
<rect x="412" y="464" width="1" height="2" fill="#c0c0c0"/>
<rect x="420" y="465" width="1" height="5" fill="#c0c0c0"/>
<rect x="428" y="465" width="1" height="7" fill="#c0c0c0"/>
<rect x="436" y="465" width="1" height="6" fill="#c0c0c0"/>
<rect x="444" y="465" width="1" height="4" fill="#c0c0c0"/>
<rect x="460" y="461" width="1" height="5" fill="#c0c0c0"/>
<rect x="468" y="460" width="1" height="6" fill="#c0c0c0"/>
<rect x="476" y="456" width="1" height="10" fill="#c0c0c0"/>
<rect x="484" y="456" width="1" height="10" fill="#c0c0c0"/>
<rect x="492" y="458" width="1" height="8" fill="#c0c0c0"/>
<rect x="500" y="461" width="1" height="5" fill="#c0c0c0"/>
<rect x="508" y="462" width="1" height="4" fill="#c0c0c0"/>
<rect x="516" y="462" width="1" height="4" fill="#c0c0c0"/>
<rect x="524" y="465" width="1" height="10" fill="#c0c0c0"/>
<rect x="532" y="465" width="1" height="19" fill="#c0c0c0"/>
<rect x="540" y="465" width="1" height="24" fill="#c0c0c0"/>
<rect x="548" y="465" width="1" height="28" fill="#c0c0c0"/>
<rect x="556" y="465" width="1" height="31" fill="#c0c0c0"/>
<rect x="564" y="465" width="1" height="30" fill="#c0c0c0"/>
<rect x="572" y="465" width="1" height="32" fill="#c0c0c0"/>
<rect x="580" y="465" width="1" height="35" fill="#c0c0c0"/>
<rect x="588" y="465" width="1" height="41" fill="#c0c0c0"/>
<rect x="596" y="465" width="1" height="50" fill="#c0c0c0"/>
<rect x="604" y="465" width="1" height="54" fill="#c0c0c0"/>
<rect x="612" y="465" width="1" height="54" fill="#c0c0c0"/>
<rect x="620" y="465" width="1" height="55" fill="#c0c0c0"/>
<rect x="628" y="465" width="1" height="55" fill="#c0c0c0"/>
<rect x="636" y="465" width="1" height="53" fill="#c0c0c0"/>
<rect x="644" y="465" width="1" height="52" fill="#c0c0c0"/>
<rect x="652" y="465" width="1" height="52" fill="#c0c0c0"/>
<rect x="660" y="465" width="1" height="54" fill="#c0c0c0"/>
<rect x="668" y="465" width="1" height="48" fill="#c0c0c0"/>
<rect x="676" y="465" width="1" height="39" fill="#c0c0c0"/>
<rect x="684" y="465" width="1" height="31" fill="#c0c0c0"/>
<rect x="692" y="465" width="1" height="25" fill="#c0c0c0"/>
<rect x="700" y="465" width="1" height="18" fill="#c0c0c0"/>
<rect x="708" y="465" width="1" height="11" fill="#c0c0c0"/>
<rect x="716" y="465" width="1" height="7" fill="#c0c0c0"/>
<rect x="724" y="465" width="1" height="6" fill="#c0c0c0"/>
<rect x="732" y="465" width="1" height="3" fill="#c0c0c0"/>
<rect x="748" y="463" width="1" height="3" fill="#c0c0c0"/>
<rect x="756" y="464" width="1" height="2" fill="#c0c0c0"/>
<rect x="764" y="462" width="1" height="4" fill="#c0c0c0"/>
<rect x="772" y="460" width="1" height="6" fill="#c0c0c0"/>
<rect x="780" y="460" width="1" height="6" fill="#c0c0c0"/>
<rect x="788" y="458" width="1" height="8" fill="#c0c0c0"/>
<rect x="796" y="455" width="1" height="11" fill="#c0c0c0"/>
<rect x="804" y="449" width="1" height="17" fill="#c0c0c0"/>
<rect x="812" y="443" width="1" height="23" fill="#c0c0c0"/>
<rect x="820" y="440" width="1" height="26" fill="#c0c0c0"/>
<rect x="828" y="436" width="1" height="30" fill="#c0c0c0"/>
<rect x="836" y="433" width="1" height="33" fill="#c0c0c0"/>
<rect x="844" y="431" width="1" height="35" fill="#c0c0c0"/>
<rect x="852" y="435" width="1" height="31" fill="#c0c0c0"/>
<rect x="860" y="444" width="1" height="22" fill="#c0c0c0"/>
<rect x="868" y="447" width="1" height="19" fill="#c0c0c0"/>
<rect x="876" y="454" width="1" height="12" fill="#c0c0c0"/>
<rect x="884" y="459" width="1" height="7" fill="#c0c0c0"/>
<rect x="892" y="462" width="1" height="4" fill="#c0c0c0"/>
<rect x="900" y="465" width="1" height="3" fill="#c0c0c0"/>
<rect x="908" y="465" width="1" height="5" fill="#c0c0c0"/>
<rect x="916" y="465" width="1" height="6" fill="#c0c0c0"/>
<rect x="924" y="465" width="1" height="7" fill="#c0c0c0"/>
<rect x="932" y="465" width="1" height="10" fill="#c0c0c0"/>
<rect x="940" y="465" width="1" height="11" fill="#c0c0c0"/>
<rect x="948" y="465" width="1" height="10" fill="#c0c0c0"/>
<rect x="956" y="465" width="1" height="12" fill="#c0c0c0"/>
<rect x="964" y="465" width="1" height="11" fill="#c0c0c0"/>
<rect x="972" y="465" width="1" height="7" fill="#c0c0c0"/>
<rect x="980" y="465" width="1" height="3" fill="#c0c0c0"/>
<rect x="988" y="465" width="1" height="4" fill="#c0c0c0"/>
<rect x="996" y="465" width="1" height="17" fill="#c0c0c0"/>
<rect x="1004" y="465" width="1" height="19" fill="#c0c0c0"/>
<rect x="1012" y="465" width="1" height="15" fill="#c0c0c0"/>
<rect x="1020" y="465" width="1" height="24" fill="#c0c0c0"/>
<rect x="1028" y="465" width="1" height="31" fill="#c0c0c0"/>
<path d="M868 439h3v1h-3zM874 439h3v1h-3zM857 440h2v1h-2zM862 440h3v1h-3zM880 440h3v1h-3zM851 441h2v1h-2zM856 441h1v1h-1zM886 441h1v1h-1zM850 442h1v1h-1zM887 442h2v1h-2zM846 443h1v1h-1zM892 443h2v1h-2zM844 444h2v1h-2zM894 444h1v1h-1zM838 446h3v1h-3zM898 446h2v1h-2zM900 447h1v1h-1zM244 448h3v1h-3zM833 448h2v1h-2zM220 449h3v1h-3zM226 449h3v1h-3zM232 449h3v1h-3zM238 449h3v1h-3zM250 449h1v1h-1zM832 449h1v1h-1zM904 449h2v1h-2zM215 450h2v1h-2zM251 450h2v1h-2zM828 450h1v1h-1zM906 450h1v1h-1zM209 451h2v1h-2zM214 451h1v1h-1zM256 451h1v1h-1zM826 451h2v1h-2zM203 452h2v1h-2zM208 452h1v1h-1zM257 452h2v1h-2zM910 452h2v1h-2zM202 453h1v1h-1zM822 453h1v1h-1zM912 453h1v1h-1zM198 454h1v1h-1zM262 454h2v1h-2zM820 454h2v1h-2zM196 455h2v1h-2zM264 455h1v1h-1zM815 455h2v1h-2zM916 455h2v1h-2zM191 456h2v1h-2zM814 456h1v1h-1zM918 456h1v1h-1zM190 457h1v1h-1zM268 457h2v1h-2zM809 457h2v1h-2zM185 458h2v1h-2zM270 458h1v1h-1zM401 458h2v1h-2zM406 458h3v1h-3zM412 458h3v1h-3zM808 458h1v1h-1zM922 458h2v1h-2zM184 459h1v1h-1zM274 459h1v1h-1zM395 459h2v1h-2zM400 459h1v1h-1zM418 459h1v1h-1zM514 459h3v1h-3zM520 459h1v1h-1zM803 459h2v1h-2zM924 459h1v1h-1zM179 460h2v1h-2zM275 460h2v1h-2zM394 460h1v1h-1zM419 460h2v1h-2zM424 460h1v1h-1zM508 460h3v1h-3zM521 460h2v1h-2zM802 460h1v1h-1zM178 461h1v1h-1zM280 461h1v1h-1zM388 461h3v1h-3zM425 461h2v1h-2zM430 461h3v1h-3zM502 461h3v1h-3zM526 461h3v1h-3zM796 461h3v1h-3zM928 461h1v1h-1zM174 462h1v1h-1zM281 462h2v1h-2zM383 462h2v1h-2zM436 462h3v1h-3zM496 462h3v1h-3zM785 462h2v1h-2zM790 462h3v1h-3zM929 462h1v1h-1zM172 463h2v1h-2zM382 463h1v1h-1zM442 463h3v1h-3zM490 463h3v1h-3zM532 463h2v1h-2zM779 463h2v1h-2zM784 463h1v1h-1zM930 463h1v1h-1zM286 464h3v1h-3zM376 464h3v1h-3zM448 464h3v1h-3zM484 464h3v1h-3zM534 464h1v1h-1zM778 464h1v1h-1zM934 464h1v1h-1zM166 465h3v1h-3zM371 465h2v1h-2zM454 465h3v1h-3zM460 465h3v1h-3zM466 465h3v1h-3zM472 465h3v1h-3zM478 465h3v1h-3zM538 465h1v1h-1zM774 465h1v1h-1zM935 465h2v1h-2zM292 466h2v1h-2zM370 466h1v1h-1zM539 466h2v1h-2zM772 466h2v1h-2zM940 466h2v1h-2zM162 467h1v1h-1zM294 467h1v1h-1zM366 467h1v1h-1zM767 467h2v1h-2zM942 467h1v1h-1zM160 468h2v1h-2zM298 468h1v1h-1zM364 468h2v1h-2zM544 468h1v1h-1zM766 468h1v1h-1zM946 468h1v1h-1zM299 469h2v1h-2zM358 469h3v1h-3zM545 469h1v1h-1zM762 469h1v1h-1zM947 469h2v1h-2zM156 470h1v1h-1zM352 470h3v1h-3zM546 470h1v1h-1zM760 470h2v1h-2zM952 470h3v1h-3zM154 471h2v1h-2zM304 471h2v1h-2zM348 471h1v1h-1zM958 471h1v1h-1zM306 472h1v1h-1zM346 472h2v1h-2zM550 472h2v1h-2zM755 472h2v1h-2zM959 472h2v1h-2zM150 473h1v1h-1zM310 473h1v1h-1zM552 473h1v1h-1zM754 473h1v1h-1zM964 473h3v1h-3zM988 473h3v1h-3zM148 474h2v1h-2zM311 474h2v1h-2zM342 474h1v1h-1zM750 474h1v1h-1zM970 474h3v1h-3zM976 474h3v1h-3zM982 474h3v1h-3zM994 474h3v1h-3zM1000 474h1v1h-1zM316 475h3v1h-3zM340 475h2v1h-2zM556 475h2v1h-2zM748 475h2v1h-2zM1001 475h2v1h-2zM1006 475h3v1h-3zM322 476h3v1h-3zM328 476h3v1h-3zM334 476h3v1h-3zM558 476h1v1h-1zM1012 476h3v1h-3zM143 477h2v1h-2zM1018 477h3v1h-3zM142 478h1v1h-1zM562 478h2v1h-2zM743 478h2v1h-2zM564 479h1v1h-1zM742 479h1v1h-1zM138 480h1v1h-1zM137 481h1v1h-1zM568 481h2v1h-2zM136 482h1v1h-1zM570 482h1v1h-1zM737 482h2v1h-2zM736 483h1v1h-1zM132 484h1v1h-1zM574 484h1v1h-1zM130 485h2v1h-2zM575 485h2v1h-2zM732 486h1v1h-1zM126 487h1v1h-1zM730 487h2v1h-2zM124 488h2v1h-2zM580 488h2v1h-2zM582 489h1v1h-1zM120 490h1v1h-1zM725 490h2v1h-2zM118 491h2v1h-2zM586 491h2v1h-2zM724 491h1v1h-1zM588 492h1v1h-1zM114 493h1v1h-1zM112 494h2v1h-2zM592 494h1v1h-1zM719 494h2v1h-2zM593 495h1v1h-1zM718 495h1v1h-1zM108 496h1v1h-1zM594 496h1v1h-1zM107 497h1v1h-1zM714 497h1v1h-1zM106 498h1v1h-1zM598 498h2v1h-2zM713 498h1v1h-1zM600 499h1v1h-1zM712 499h1v1h-1zM101 501h2v1h-2zM604 501h2v1h-2zM708 501h1v1h-1zM100 502h1v1h-1zM606 502h1v1h-1zM706 502h2v1h-2zM96 504h1v1h-1zM610 504h2v1h-2zM702 504h1v1h-1zM94 505h2v1h-2zM612 505h1v1h-1zM700 505h2v1h-2zM616 506h1v1h-1zM90 507h1v1h-1zM617 507h2v1h-2zM88 508h2v1h-2zM622 508h1v1h-1zM695 508h2v1h-2zM623 509h2v1h-2zM694 509h1v1h-1zM83 510h2v1h-2zM628 510h2v1h-2zM82 511h1v1h-1zM630 511h1v1h-1zM690 511h1v1h-1zM78 512h1v1h-1zM634 512h1v1h-1zM688 512h2v1h-2zM76 513h2v1h-2zM635 513h2v1h-2zM71 514h2v1h-2zM640 514h3v1h-3zM683 514h2v1h-2zM70 515h1v1h-1zM646 515h1v1h-1zM682 515h1v1h-1zM64 516h3v1h-3zM647 516h2v1h-2zM676 516h3v1h-3zM60 517h1v1h-1zM652 517h3v1h-3zM665 517h2v1h-2zM670 517h3v1h-3zM58 518h2v1h-2zM658 518h3v1h-3zM664 518h1v1h-1zM54 520h1v1h-1zM52 521h2v1h-2zM48 523h1v1h-1zM46 524h2v1h-2zM42 526h1v1h-1zM40 527h2v1h-2zM35 529h2v1h-2zM34 530h1v1h-1zM30 531h1v1h-1zM28 532h2v1h-2zM24 534h1v1h-1zM22 535h2v1h-2zM18 537h1v1h-1zM16 538h2v1h-2zM12 540h1v1h-1zM10 541h2v1h-2zM5 544h2v1h-2zM4 545h1v1h-1z" fill="#ff0000"/>
</g>
<rect x="1308" y="55" width="2" height="1" fill="#000"/>
<rect x="1308" y="88" width="2" height="1" fill="#000"/>
<rect x="1308" y="121" width="2" height="1" fill="#000"/>
<rect x="1308" y="154" width="2" height="1" fill="#000"/>
<rect x="1308" y="187" width="2" height="1" fill="#000"/>
<rect x="1308" y="220" width="2" height="1" fill="#000"/>
<rect x="1308" y="253" width="2" height="1" fill="#000"/>
<rect x="1308" y="286" width="2" height="1" fill="#000"/>
<rect x="1308" y="319" width="2" height="1" fill="#000"/>
<rect x="1308" y="352" width="2" height="1" fill="#000"/>
<rect x="1308" y="385" width="2" height="1" fill="#000"/>
<rect x="1308" y="418" width="2" height="1" fill="#000"/>
<rect x="1308" y="465" width="2" height="1" fill="#000"/>
<rect x="4" y="552" width="1" height="2" fill="#000"/>
<rect x="68" y="552" width="1" height="2" fill="#000"/>
<rect x="132" y="552" width="1" height="2" fill="#000"/>
<rect x="196" y="552" width="1" height="2" fill="#000"/>
<rect x="260" y="552" width="1" height="2" fill="#000"/>
<rect x="324" y="552" width="1" height="2" fill="#000"/>
<rect x="388" y="552" width="1" height="2" fill="#000"/>
<rect x="452" y="552" width="1" height="2" fill="#000"/>
<rect x="516" y="552" width="1" height="2" fill="#000"/>
<rect x="580" y="552" width="1" height="2" fill="#000"/>
<rect x="644" y="552" width="1" height="2" fill="#000"/>
<rect x="708" y="552" width="1" height="2" fill="#000"/>
<rect x="772" y="552" width="1" height="2" fill="#000"/>
<rect x="836" y="552" width="1" height="2" fill="#000"/>
<rect x="900" y="552" width="1" height="2" fill="#000"/>
<rect x="964" y="552" width="1" height="2" fill="#000"/>
<rect x="1028" y="552" width="1" height="2" fill="#000"/>
</svg>
<svg class="abs" style="left:0;top:0" width="56" height="26" viewBox="0 0 56 26"><g fill="#5a5a5a"><rect x="0" y="11" width="7" height="1.2"/><rect x="2.1" y="11" width="1.7" height="7.8"/></g><path d="M0 8.5 H8.5 V20.5 H0" fill="none" stroke="#5a5a5a" stroke-width="1" stroke-dasharray="1 1"/><g fill="#505050"><path d="M27.4 7.8 L31 11.7 L29 11.7 L29 12.8 L25.8 12.8 L25.8 11.7 L23.8 11.7 Z"/><path d="M34.4 21 L38 17.2 L36.3 17.2 L36.3 16.1 L32.7 16.1 L32.7 17.2 L30.9 17.2 Z"/></g><path d="M26.3 15.4 L28.4 17.5 L32.9 12.4" fill="none" stroke="#505050" stroke-width="1.2"/><path d="M44.6 13 L50.4 13 L47.5 16.3 Z" fill="#000"/></svg>
<div class="abs" style="left:56px;top:1px;width:1px;height:25px;background:#8c8c8c"></div>
<div class="abs" style="left:57px;top:1px;width:1px;height:25px;background:#fff"></div>
<div class="abs" style="left:60px;top:4px;width:3px;height:19px;background:repeating-linear-gradient(#a0a0a0 0 1px,#f0f0f0 1px 2px)"></div>
<div class="abs" style="left:206px;top:2px;width:26px;height:23px;box-sizing:border-box;border:1px solid;border-color:#8e8e8e #fff #fff #8e8e8e;background:#f8f8f8"></div>
<div class="abs" style="left:317px;top:1px;width:1px;height:25px;background:#a0a0a0"></div>
<div class="abs" style="left:318px;top:1px;width:1px;height:25px;background:#fff"></div>
<svg class="abs" style="left:6px;top:35px" width="10" height="8" viewBox="0 0 10 8"><path d="M1 5.7 L8.2 5.7 L4.6 1.8 Z" fill="#000"/></svg>
<div class="abs" style="left:1309px;top:340px;width:41px;height:10px;background:#000"></div>
<div class="abs" style="left:5px;top:48px;width:223px;height:68px;background:#fff"></div>
<div class="abs" style="left:7px;top:50px;width:52px;height:25px;background:linear-gradient(#5a5af8,#2e2ee0);box-shadow:inset 1px 1px 0 rgba(0,0,150,.45),inset -1px 0 0 rgba(0,0,150,.45)"></div>
<div class="abs" style="left:174px;top:50px;width:52px;height:25px;background:linear-gradient(#5a5af8,#2e2ee0);box-shadow:inset 1px 1px 0 rgba(0,0,150,.45),inset -1px 0 0 rgba(0,0,150,.45)"></div>
<div class="abs" style="left:7px;top:74px;width:109px;height:40px;background:linear-gradient(#3636dd,#0000a0);box-shadow:inset 1px 0 0 rgba(0,0,130,.45),inset -1px -1px 0 rgba(0,0,130,.45)"></div>
<div class="abs" style="left:118px;top:74px;width:108px;height:40px;background:linear-gradient(#3636dd,#0000a0);box-shadow:inset 1px 0 0 rgba(0,0,130,.45),inset -1px -1px 0 rgba(0,0,130,.45)"></div>
<div class="abs" style="left:11px;top:74px;width:44px;height:1px;background:#8c8cf4"></div>
<div class="abs" style="left:178px;top:74px;width:44px;height:1px;background:#8c8cf4"></div>
<div class="abs" style="left:61px;top:50px;width:111px;height:22px;box-sizing:border-box;border:1px solid #ababab;background:#fff"></div>
<div class="abs" style="left:63px;top:52px;width:18px;height:18px;background:linear-gradient(#ececec,#cfcfcf);border-right:1px solid #b8b8b8"></div>
<div class="abs" style="left:151px;top:52px;width:19px;height:18px;background:linear-gradient(#ececec,#cfcfcf);border-left:1px solid #b8b8b8"></div>
<svg class="abs" style="left:68px;top:58px" width="8" height="6" viewBox="0 0 8 6"><path d="M1 1 L7 1 L4 4.5 Z" fill="#4a5ab4"/></svg>
<svg class="abs" style="left:157px;top:58px" width="8" height="6" viewBox="0 0 8 6"><path d="M1 4.5 L7 4.5 L4 1 Z" fill="#4a5ab4"/></svg>

<div class="abs" style="left:0;top:572px;width:1352px;height:1px;background:#e6e6e6"></div>
<div class="abs" style="left:0;top:573px;width:1352px;height:1px;background:#f6f6f6"></div>
<div class="abs" style="left:0;top:574px;width:1352px;height:1px;background:#000"></div>
<div class="abs" style="left:0;top:575px;width:1352px;height:19px;background:#eeeeee"></div>
<div class="abs" style="left:0;top:575px;width:1352px;height:1px;background:#fafafa"></div>
<div class="abs" style="left:0;top:574px;width:1px;height:19px;background:#505050"></div>
<div class="abs" style="left:0;top:594px;width:1352px;height:1px;background:#fff"></div>
<div class="abs" style="left:201px;top:574px;width:88px;height:19px;background:#fff;border-left:1px solid #000;box-sizing:border-box"></div>
<div class="abs" style="left:201px;top:592px;width:89px;height:1px;background:#000"></div>
<div class="abs" style="left:288px;top:575px;width:2px;height:18px;background:#000"></div>
<div class="sep" style="left:109px"></div>
<div class="sep" style="left:381px"></div>
<div class="sep" style="left:473px"></div>
<div class="sep" style="left:569px"></div>
<div class="sep" style="left:665px"></div>
<div class="sep" style="left:781px"></div>
<div class="sep" style="left:857px"></div>
<svg class="abs" style="left:1316px;top:577px" width="32" height="12" viewBox="1316 577 32 12"><path d="M1323.2 580 L1323.2 586 L1319.8 583 Z" fill="#999"/><path d="M1339 580 L1339 586 L1342.4 583 Z" fill="#999"/></svg>
<div class="abs" style="left:1350px;top:575px;width:1px;height:19px;background:#e0e0e0"></div>
<div class="t" style="left:71.10px;top:11px;font-size:10.2px;color:#414141;transform:scaleX(0.8857);">M1</div>
<div class="t" style="left:99.40px;top:11px;font-size:10.2px;color:#414141;transform:scaleX(0.8643);">M5</div>
<div class="t" style="left:125.20px;top:11px;font-size:10.2px;color:#414141;transform:scaleX(0.8800);">M15</div>
<div class="t" style="left:153.00px;top:11px;font-size:10.2px;color:#414141;transform:scaleX(0.8700);">M30</div>
<div class="t" style="left:184.30px;top:11px;font-size:10.2px;color:#414141;transform:scaleX(0.8615);">H1</div>
<div class="t" style="left:211.20px;top:11px;font-size:10.2px;color:#414141;transform:scaleX(0.9308);">H4</div>
<div class="t" style="left:240.00px;top:11px;font-size:10.2px;color:#414141;transform:scaleX(0.8923);">D1</div>
<div class="t" style="left:267.40px;top:11px;font-size:10.2px;color:#414141;transform:scaleX(0.9333);">W1</div>
<div class="t" style="left:294.10px;top:11px;font-size:10.2px;color:#414141;transform:scaleX(0.9867);">MN</div>
<div class="t" style="left:18.60px;top:35px;font-size:10.2px;color:#000;transform:scaleX(0.9561);">USDCHF,H4</div>
<div class="t" style="left:79.60px;top:35px;font-size:10.2px;color:#000;transform:scaleX(0.9038);">0.98688 0.98795 0.98599 0.98707</div>
<div class="t" style="left:8.00px;top:429px;font-size:10.2px;color:#000;transform:scaleX(0.9149);">MACD(12,26,9) -0.001218 -0.000576</div>
<div class="t" style="left:1311.69px;top:52px;font-size:10.2px;color:#000;transform:scaleX(0.9056);">1.00050</div>
<div class="t" style="left:1312.60px;top:85px;font-size:10.2px;color:#000;transform:scaleX(0.8811);">0.99895</div>
<div class="t" style="left:1312.60px;top:118px;font-size:10.2px;color:#000;transform:scaleX(0.8811);">0.99745</div>
<div class="t" style="left:1312.60px;top:151px;font-size:10.2px;color:#000;transform:scaleX(0.8811);">0.99590</div>
<div class="t" style="left:1312.60px;top:184px;font-size:10.2px;color:#000;transform:scaleX(0.8811);">0.99435</div>
<div class="t" style="left:1312.60px;top:217px;font-size:10.2px;color:#000;transform:scaleX(0.8811);">0.99285</div>
<div class="t" style="left:1312.60px;top:250px;font-size:10.2px;color:#000;transform:scaleX(0.8811);">0.99130</div>
<div class="t" style="left:1312.60px;top:283px;font-size:10.2px;color:#000;transform:scaleX(0.8811);">0.98975</div>
<div class="t" style="left:1312.60px;top:316px;font-size:10.2px;color:#000;transform:scaleX(0.8811);">0.98820</div>
<div class="t" style="left:1312.60px;top:349px;font-size:10.2px;color:#000;transform:scaleX(0.8811);">0.98670</div>
<div class="t" style="left:1312.60px;top:382px;font-size:10.2px;color:#000;transform:scaleX(0.8811);">0.98515</div>
<div class="t" style="left:1312.60px;top:415px;font-size:10.2px;color:#000;transform:scaleX(0.8811);">0.98360</div>
<div class="t" style="left:1312.60px;top:341px;font-size:10.2px;color:#fff;transform:scaleX(0.8811);">0.98707</div>
<div class="t" style="left:1310.60px;top:427px;font-size:10.2px;color:#000;transform:scaleX(0.9000);">0.001559</div>
<div class="t" style="left:1310.60px;top:462px;font-size:10.2px;color:#000;transform:scaleX(0.8870);">0.00</div>
<div class="t" style="left:1310.60px;top:541px;font-size:10.2px;color:#000;transform:scaleX(0.8870);width:44px;height:11px;overflow:hidden;">-0.003345</div>
<div class="t" style="left:2.80px;top:557px;font-size:10.2px;color:#000;transform:scaleX(0.9362);">21 Nov 2018</div>
<div class="t" style="left:66.80px;top:557px;font-size:10.2px;color:#000;transform:scaleX(0.9377);">23 Nov 04:00</div>
<div class="t" style="left:130.80px;top:557px;font-size:10.2px;color:#000;transform:scaleX(0.9377);">26 Nov 15:00</div>
<div class="t" style="left:194.80px;top:557px;font-size:10.2px;color:#000;transform:scaleX(0.9377);">27 Nov 23:00</div>
<div class="t" style="left:258.80px;top:557px;font-size:10.2px;color:#000;transform:scaleX(0.9377);">29 Nov 04:00</div>
<div class="t" style="left:322.80px;top:557px;font-size:10.2px;color:#000;transform:scaleX(0.9377);">30 Nov 15:00</div>
<div class="t" style="left:386.80px;top:557px;font-size:10.2px;color:#000;transform:scaleX(0.8964);">3 Dec 23:00</div>
<div class="t" style="left:450.80px;top:557px;font-size:10.2px;color:#000;transform:scaleX(0.8964);">5 Dec 04:00</div>
<div class="t" style="left:514.80px;top:557px;font-size:10.2px;color:#000;transform:scaleX(0.8964);">6 Dec 15:00</div>
<div class="t" style="left:578.80px;top:557px;font-size:10.2px;color:#000;transform:scaleX(0.8964);">7 Dec 23:00</div>
<div class="t" style="left:641.88px;top:557px;font-size:10.2px;color:#000;transform:scaleX(0.9220);">11 Dec 04:00</div>
<div class="t" style="left:705.89px;top:557px;font-size:10.2px;color:#000;transform:scaleX(0.9067);">12 Dec 15:00</div>
<div class="t" style="left:769.89px;top:557px;font-size:10.2px;color:#000;transform:scaleX(0.9067);">13 Dec 23:00</div>
<div class="t" style="left:833.89px;top:557px;font-size:10.2px;color:#000;transform:scaleX(0.9067);">17 Dec 07:00</div>
<div class="t" style="left:897.89px;top:557px;font-size:10.2px;color:#000;transform:scaleX(0.9067);">18 Dec 15:00</div>
<div class="t" style="left:961.89px;top:557px;font-size:10.2px;color:#000;transform:scaleX(0.9067);">19 Dec 23:00</div>
<div class="t" style="left:1026.80px;top:557px;font-size:10.2px;color:#000;transform:scaleX(0.8918);">21 Dec 04:00</div>
<div class="t" style="left:19.48px;top:55px;font-size:13.1px;color:#fff;transform:scaleX(0.8194);">SELL</div>
<div class="t" style="left:186.51px;top:55px;font-size:13.1px;color:#fff;transform:scaleX(0.8923);">BUY</div>
<div class="t" style="left:123.00px;top:55px;font-size:12.4px;color:#000;transform:scaleX(0.9833);">0.50</div>
<div class="t" style="left:26.70px;top:95px;font-size:12.0px;font-weight:700;color:#fff;transform:scaleX(1.0348);">0.98</div>
<div class="t" style="left:136.70px;top:95px;font-size:12.0px;font-weight:700;color:#fff;transform:scaleX(1.0348);">0.98</div>
<div class="t" style="left:54.09px;top:77px;font-size:34.6px;color:#fff;transform:scaleX(0.9135);">70</div>
<div class="t" style="left:164.77px;top:77px;font-size:34.6px;color:#fff;transform:scaleX(0.9333);">73</div>
<div class="t" style="left:93.50px;top:78px;font-size:13.1px;font-weight:700;color:#fff;transform:scaleX(1.0571);">7</div>
<div class="t" style="left:205.30px;top:78px;font-size:13.1px;font-weight:700;color:#fff;transform:scaleX(0.8714);">1</div>
<div class="t" style="left:17.08px;top:578px;font-size:13.1px;color:#808080;transform:scaleX(0.9161);">EURUSD,Daily</div>
<div class="t" style="left:120.50px;top:578px;font-size:13.1px;color:#808080;transform:scaleX(0.9250);">AUDUSD,H4</div>
<div class="t" style="left:211.70px;top:578px;font-size:13.1px;color:#000;transform:scaleX(0.9027);">USDCHF,H4</div>
<div class="t" style="left:300.19px;top:578px;font-size:13.1px;color:#808080;transform:scaleX(0.9120);">USDCAD,H1</div>
<div class="t" style="left:391.16px;top:578px;font-size:13.1px;color:#808080;transform:scaleX(0.9413);">USDCNH,H4</div>
<div class="t" style="left:483.77px;top:578px;font-size:13.1px;color:#808080;transform:scaleX(0.9256);">USDJPY,M15</div>
<div class="t" style="left:581.70px;top:578px;font-size:13.1px;color:#808080;transform:scaleX(0.9342);">XAUUSD,M5</div>
<div class="t" style="left:677.20px;top:578px;font-size:13.1px;color:#808080;transform:scaleX(0.9137);">GBPUSD,Weekly</div>
<div class="t" style="left:792.11px;top:578px;font-size:13.1px;color:#808080;transform:scaleX(0.8949);">SP500,H1</div>
</body></html>
